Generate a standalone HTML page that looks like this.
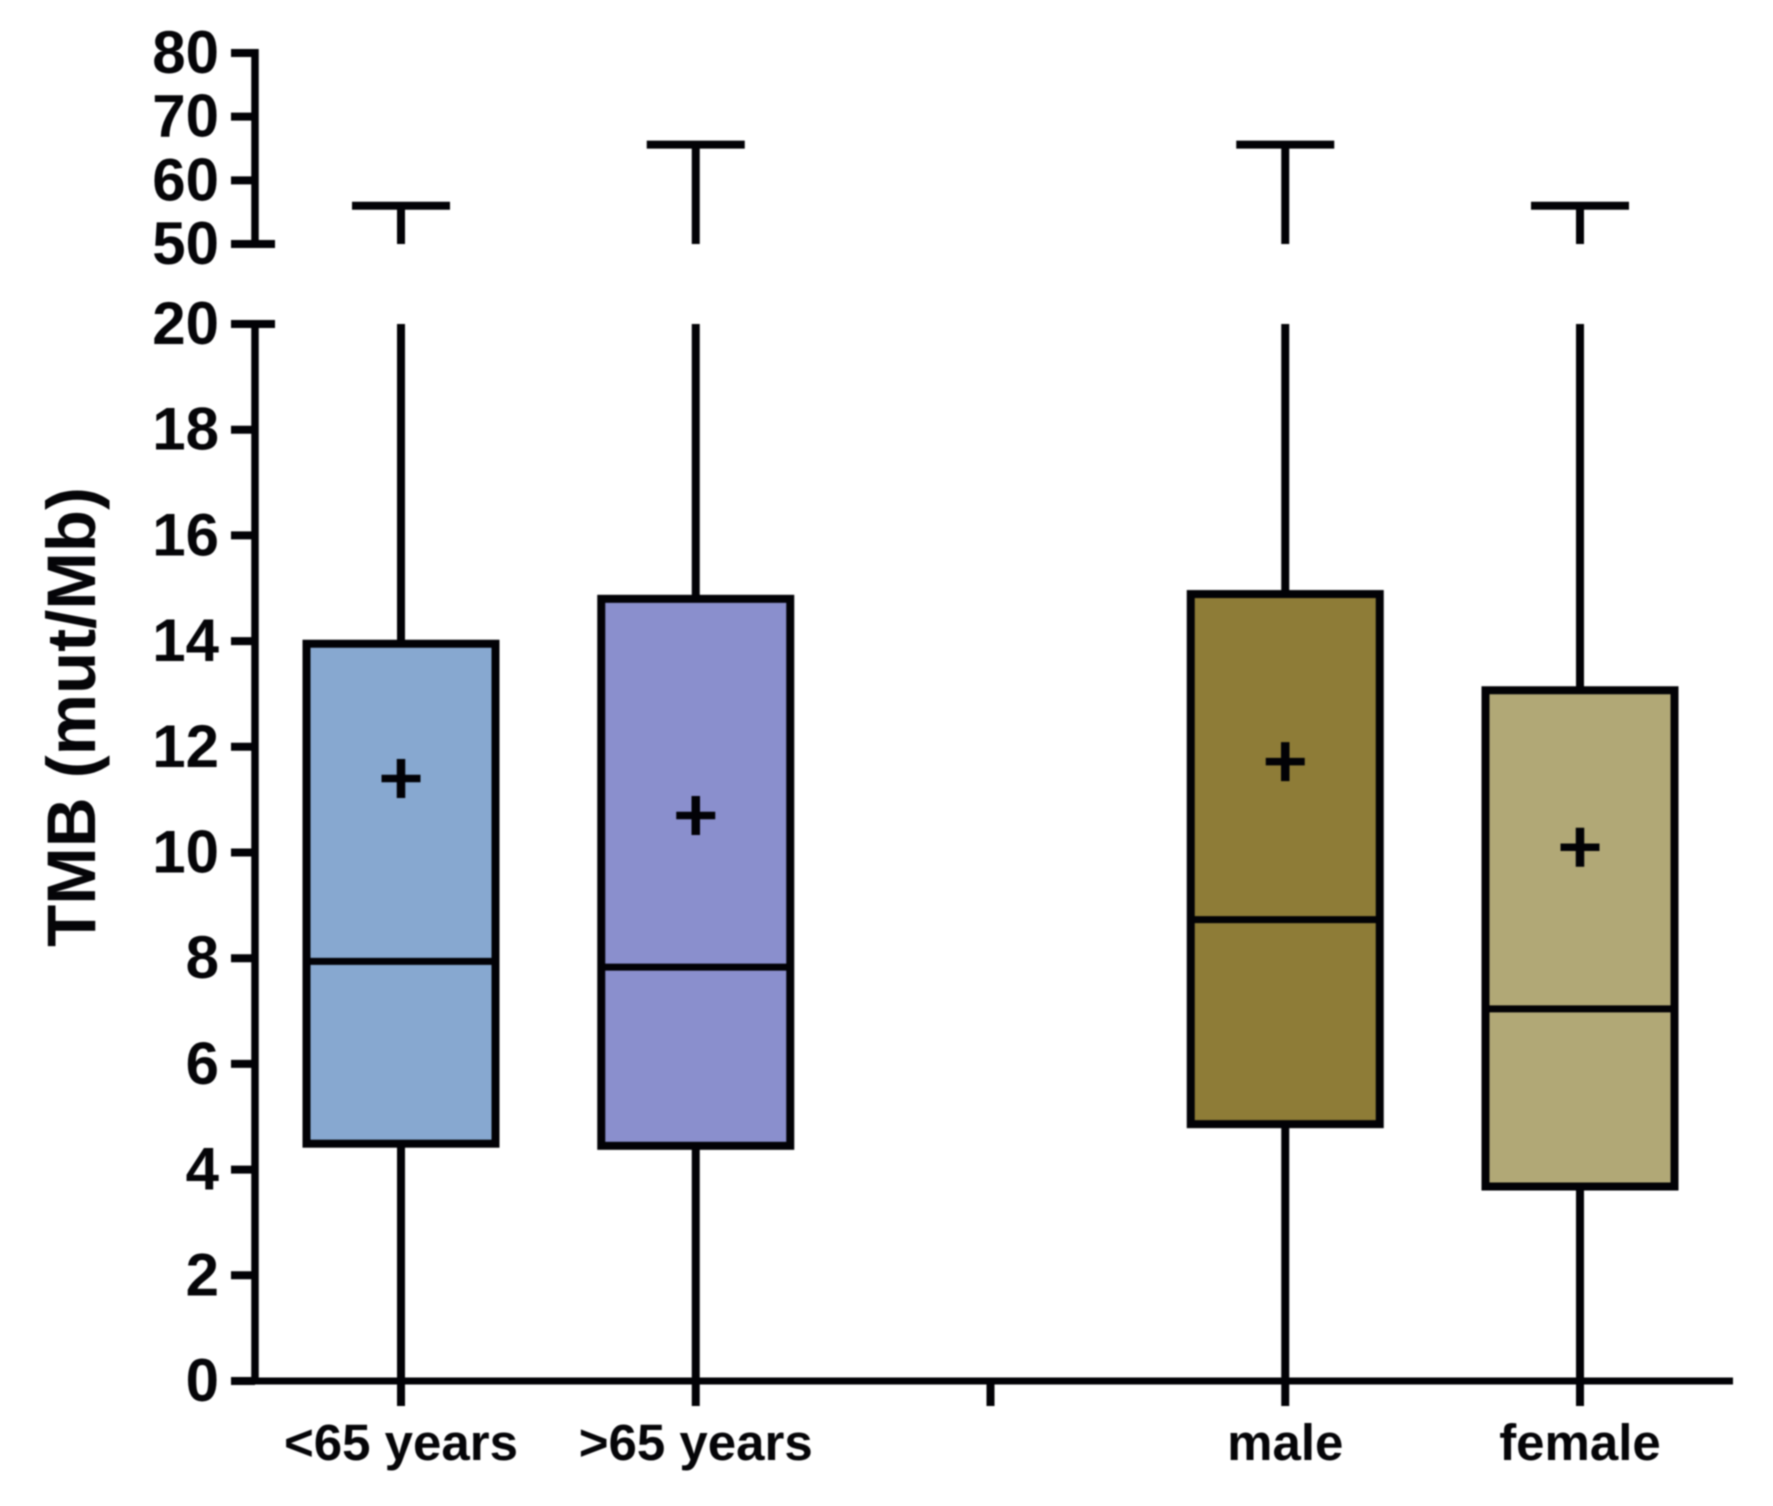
<!DOCTYPE html>
<html lang="en">
<head>
<meta charset="utf-8">
<title>TMB box plot</title>
<style>
html,body{margin:0;padding:0;background:#fff;}
svg{display:block;filter:blur(0.8px);}
text{font-family:"Liberation Sans",Arial,sans-serif;font-weight:bold;fill:#050508;}
</style>
</head>
<body>
<svg id="chart" xmlns="http://www.w3.org/2000/svg" width="1773" height="1506" viewBox="0 0 1773 1506">
<rect x="0" y="0" width="1773" height="1506" fill="#ffffff"/>
<text transform="translate(95,717) rotate(-90)" text-anchor="middle" font-size="69">TMB (mut/Mb)</text>
</svg>
<script>
var categories = ['<65 years', '>65 years', '', 'male', 'female'];
var q1Values = [4.49, 4.45, null, 4.86, 3.68];
var medianValues = [7.94, 7.83, null, 8.73, 7.04];
var q3Values = [13.95, 14.8, null, 14.89, 13.07];
var meanValues = [11.4, 10.7, null, 11.72, 10.1];
var whiskerLowValues = [0, 0, null, 0, 0];
var whiskerHighValues = [56, 65.6, null, 65.6, 56];
var boxColors = ['#87a8d0', '#8a8fcd', null, '#8e7c37', '#b1a876'];
var lowerTicks = [0, 2, 4, 6, 8, 10, 12, 14, 16, 18, 20];
var upperTicks = [50, 60, 70, 80];
var breakLow = 20;
var breakHigh = 50;

var svg = document.getElementById('chart');
var NS = 'http://www.w3.org/2000/svg';
var INK = '#020206';
var axisX = 255;

function xScale(i) { return 401 + i * 294.75; }
function yScale(v) {
  if (v <= breakLow) return 1381 - v * (1381 - 324) / breakLow;
  return 244 - (v - breakHigh) * (244 - 53) / (80 - breakHigh);
}
function line(x1, y1, x2, y2, w, name) {
  var el = document.createElementNS(NS, 'line');
  el.setAttribute('x1', x1);
  el.setAttribute('y1', y1);
  el.setAttribute('x2', x2);
  el.setAttribute('y2', y2);
  el.setAttribute('stroke', INK);
  el.setAttribute('stroke-width', w);
  
  
  svg.appendChild(el);
  return el;
}
function label(x, y, str, size, anchor, name) {
  var el = document.createElementNS(NS, 'text');
  el.setAttribute('x', x);
  el.setAttribute('y', y);
  el.setAttribute('font-size', size);
  el.setAttribute('text-anchor', anchor);
  
  
  el.textContent = str;
  svg.appendChild(el);
  return el;
}

/* Y axis, two segments either side of the break */
line(axisX, yScale(0) + 3, axisX, yScale(breakLow) - 3.5, 7.5, 'y-axis-lower');
line(axisX, yScale(breakHigh) + 3.5, axisX, yScale(80) - 4, 7.5, 'y-axis-upper');

lowerTicks.forEach(function (t) {
  var y = yScale(t);
  var right = (t === breakLow) ? axisX + 20 : axisX;
  line(231, y, right, y, 8, 'y-tick-' + t);
  label(219, y + 20, String(t), 60, 'end', 'y-tick-label-' + t);
});
upperTicks.forEach(function (t) {
  var y = yScale(t);
  var right = (t === breakHigh) ? axisX + 20 : axisX;
  line(231, y, right, y, 8, 'y-tick-' + t);
  label(219, y + 20, String(t), 60, 'end', 'y-tick-label-' + t);
});

/* X axis */
line(231, yScale(0), 1740 - 7, yScale(0), 7, 'x-axis');
categories.forEach(function (c, i) {
  var x = xScale(i);
  line(x, yScale(0), x, 1406, 8, 'x-tick-' + i);
  if (c) {
    label(x, 1460, c, 51, 'middle', 'x-tick-label-' + c.replace(/[^a-z0-9]+/gi, '-').replace(/^-/, ''));
  }
});

/* Boxes */
var boxHalf = 94.5;
var capHalf = 49;
categories.forEach(function (c, i) {
  if (q1Values[i] === null) return;
  var x = xScale(i);
  var slug = c.replace(/[^a-z0-9]+/gi, '-').replace(/^-/, '');
  line(x, yScale(whiskerLowValues[i]), x, yScale(q1Values[i]), 8, 'whisker-low-' + slug);
  line(x, yScale(q3Values[i]), x, yScale(breakLow), 8, 'whisker-high-' + slug);
  line(x, yScale(breakHigh), x, yScale(whiskerHighValues[i]), 8, 'whisker-high-top-' + slug);
  line(x - capHalf, yScale(whiskerHighValues[i]), x + capHalf, yScale(whiskerHighValues[i]), 8, 'whisker-cap-' + slug);

  var box = document.createElementNS(NS, 'rect');
  box.setAttribute('x', x - boxHalf);
  box.setAttribute('y', yScale(q3Values[i]));
  box.setAttribute('width', boxHalf * 2);
  box.setAttribute('height', yScale(q1Values[i]) - yScale(q3Values[i]));
  box.setAttribute('fill', boxColors[i]);
  box.setAttribute('stroke', INK);
  box.setAttribute('stroke-width', 8);
  
  
  svg.appendChild(box);

  line(x - boxHalf, yScale(medianValues[i]), x + boxHalf, yScale(medianValues[i]), 7, 'median-' + slug);

  var my = yScale(meanValues[i]);
  line(x - 19.5, my, x + 19.5, my, 7.5, 'mean-marker-h-' + slug);
  line(x, my - 19.5, x, my + 19.5, 8.5, 'mean-marker-v-' + slug);
});
</script>
</body>
</html>
